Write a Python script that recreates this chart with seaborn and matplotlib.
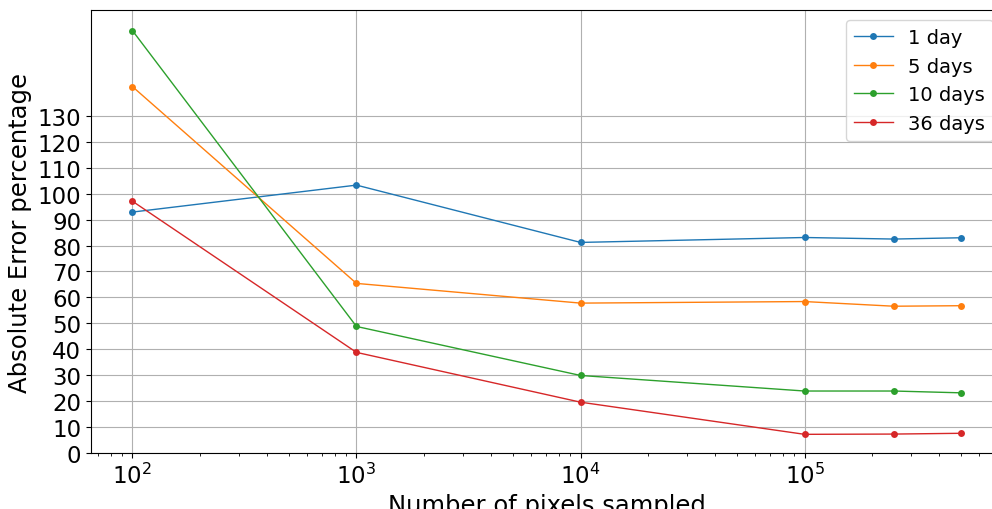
import pandas as pd
import numpy as np
import matplotlib.pyplot as plt
import seaborn as sns

# ----------------------------
# Data
# ----------------------------

pixels = [100, 1000, 10000, 100000, 250000, 500000]

err_1day = [92.9, 103.3, 81.2, 83.1, 82.5, 83.0]
err_5days = [141.3, 65.4, 57.8, 58.4, 56.6, 56.8]
err_10days = [162.9, 48.8, 29.9, 23.9, 23.9, 23.2]
err_36days = [97.1, 38.8, 19.6, 7.2, 7.3, 7.6]

labels = ["1 day", "5 days", "10 days", "36 days"]
series = [err_1day, err_5days, err_10days, err_36days]

rows = []
for lab, vals in zip(labels, series):
    for x, v in zip(pixels, vals):
        rows.append({"pixels": x, "error": v, "window": lab})
df = pd.DataFrame(rows)

# ----------------------------
# Plot
# ----------------------------

fig = plt.figure(figsize=(9.92, 5.10), dpi=100)
ax = fig.add_axes([0.0917, 0.1098, 0.919, 0.868])

sns.lineplot(
    data=df,
    x="pixels",
    y="error",
    hue="window",
    hue_order=labels,
    palette=["#1f77b4", "#ff7f0e", "#2ca02c", "#d62728"],
    marker="o",
    markersize=5,
    markeredgewidth=0,
    linewidth=1,
    ax=ax,
)

ax.set_xscale("log")
ax.set_ylim(0, 170.7)
ax.set_yticks(np.arange(0, 140, 10))
ax.grid(True, which="major", color="#b0b0b0", linewidth=0.8)
ax.tick_params(axis="both", which="major", labelsize=16.5)

ax.set_xlabel("Number of pixels sampled", fontsize=17.5)
ax.set_ylabel("Absolute Error percentage", fontsize=17.5)

ax.legend(loc="upper right", fontsize=14, title=None)

fig.savefig("out.png", dpi=100)
